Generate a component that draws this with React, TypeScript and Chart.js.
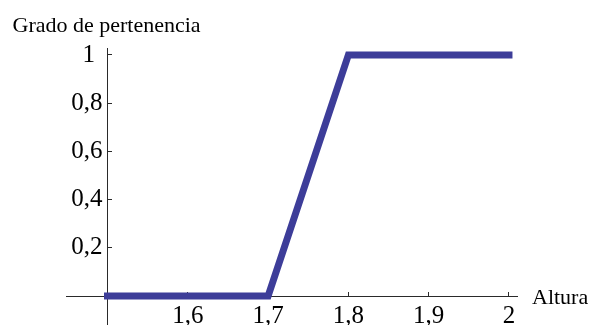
import React, { useEffect, useRef } from "react";
import { Chart, registerables } from "chart.js";

Chart.register(...registerables);

const alturaX = [1.5, 1.7, 1.8, 2];
const gradoY = [0, 0, 1, 1];
const xTickValues = [1.6, 1.7, 1.8, 1.9, 2];
const xTickLabels = ["1,6", "1,7", "1,8", "1,9", "2"];
const yTickValues = [0.2, 0.4, 0.6, 0.8, 1];
const yTickLabels = ["0,2\u2009", "0,4\u2009", "0,6\u2009", "0,8\u2009", "1\u2002"];
const yAxisTitle = "Grado de pertenencia";
const xAxisTitle = "Altura";

const SERIF = "'Liberation Serif', 'Times New Roman', serif";
const LINE_COLOR = "#3d3d99";
const AXIS_COLOR = "#2a2a2a";

const axisTitles = {
  id: "axisTitles",
  afterDraw(chart: any) {
    const { ctx, scales } = chart;
    const xs = scales.x;
    const ys = scales.y;
    ctx.save();
    ctx.fillStyle = "#000";
    ctx.font = `22px ${SERIF}`;
    ctx.textAlign = "left";
    ctx.textBaseline = "alphabetic";
    ctx.fillText(yAxisTitle, 12.5, 32);
    ctx.fillText(xAxisTitle, xs.right + 15, ys.getPixelForValue(0) + 8);
    ctx.restore();
  },
};

export default function App() {
  const ref = useRef<HTMLCanvasElement | null>(null);

  useEffect(() => {
    if (!ref.current) return;
    const zeroPad = (s: any) => {
      s.paddingTop = 0;
      s.paddingBottom = 0;
      s.paddingLeft = 0;
      s.paddingRight = 0;
    };
    const chart = new Chart(ref.current, {
      type: "line",
      data: {
        datasets: [
          {
            data: alturaX.map((x, i) => ({ x, y: gradoY[i] })),
            borderColor: LINE_COLOR,
            backgroundColor: LINE_COLOR,
            borderWidth: 7,
            borderCapStyle: "square",
            borderJoinStyle: "miter",
            pointRadius: 0,
            tension: 0,
            fill: false,
          },
        ],
      },
      options: {
        animation: false,
        responsive: false,
        events: [],
        layout: { padding: { left: 66, right: 74, top: 48, bottom: 0 } },
        plugins: {
          legend: { display: false },
          tooltip: { enabled: false },
          title: { display: false },
        },
        scales: {
          x: {
            type: "linear",
            position: { y: 0 } as any,
            min: 1.4483,
            max: 2.01,
            afterBuildTicks: (s: any) => {
              s.ticks = xTickValues.map((v) => ({ value: v }));
            },
            afterFit: zeroPad,
            grid: {
              display: true,
              drawOnChartArea: false,
              drawTicks: true,
              tickLength: -5,
              color: AXIS_COLOR,
              lineWidth: 1,
            },
            border: { display: true, color: AXIS_COLOR, width: 1 },
            ticks: {
              autoSkip: false,
              maxRotation: 0,
              color: "#000",
              padding: 10,
              font: { family: SERIF, size: 25 },
              callback: (v: any) => {
                const i = xTickValues.findIndex((t) => Math.abs(t - v) < 1e-6);
                return i >= 0 ? xTickLabels[i] : "";
              },
            },
          },
          y: {
            type: "linear",
            position: { x: 1.5 } as any,
            min: -0.12,
            max: 1.029,
            afterBuildTicks: (s: any) => {
              s.ticks = yTickValues.map((v) => ({ value: v }));
            },
            afterFit: zeroPad,
            grid: {
              display: true,
              drawOnChartArea: false,
              drawTicks: true,
              tickLength: -5,
              color: AXIS_COLOR,
              lineWidth: 1,
            },
            border: { display: true, color: AXIS_COLOR, width: 1 },
            ticks: {
              autoSkip: false,
              color: "#000",
              padding: 9,
              font: { family: SERIF, size: 25 },
              callback: (v: any) => {
                const i = yTickValues.findIndex((t) => Math.abs(t - v) < 1e-6);
                return i >= 0 ? yTickLabels[i] : "";
              },
            },
          },
        },
      },
      plugins: [axisTitles],
    });
    return () => chart.destroy();
  }, []);

  return (
    <div style={{ position: "fixed", left: 0, top: 0, width: 591, height: 325, background: "#fff" }}>
      <canvas ref={ref} width={591} height={325} style={{ width: 591, height: 325, display: "block" }} />
    </div>
  );
}
